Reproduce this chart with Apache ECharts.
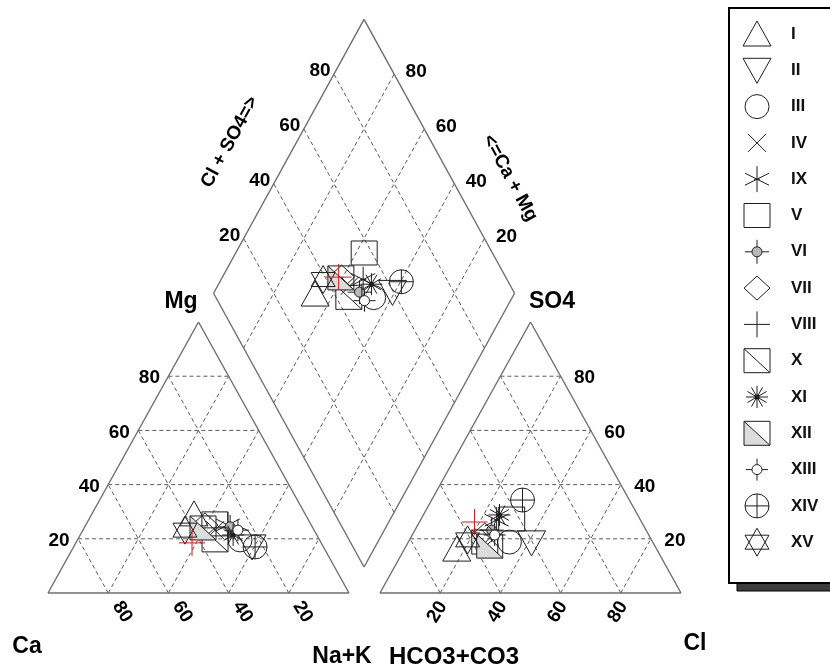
<!DOCTYPE html>
<html>
<head>
<meta charset="utf-8">
<script src="https://cdn.jsdelivr.net/npm/echarts@6/dist/echarts.min.js"></script>
<style>
html, body { margin: 0; padding: 0; background: #fff; }
#chart { width: 830px; height: 668px; }
</style>
</head>
<body>
<div id="chart"></div>
<script>
// ---- Sample groups and their ionic composition (meq %) ----
const sampleNames = ['I', 'II', 'III', 'IV', 'IX', 'V', 'VI', 'VII', 'VIII', 'X', 'XI', 'XII', 'XIII', 'XIV', 'XV'];
const markerKinds = ['triUp', 'triDown', 'circle', 'cross', 'asterisk', 'square', 'dotCross', 'diamond',
                     'plus', 'squareDiag', 'star', 'squareHalf', 'ringCross', 'circlePlus', 'hexagram'];

// cations
const caPct  = [36.9, 23.7, 26.4, 32.9, 27.7, 31.8, 27.3, 35.3, 42.9, 34.7, 27.8, 36.5, 25.3, 22.7, 42.9];
const mgPct  = [29.2, 17.0, 19.6, 23.2, 25.1, 25.5, 24.4, 25.1, 18.5, 19.6, 21.4, 24.0, 23.2, 17.0, 23.2];
const naKPct = [33.9, 59.3, 54.0, 43.9, 47.2, 42.7, 48.3, 39.6, 38.6, 45.7, 50.8, 39.5, 51.5, 60.3, 33.9];
// anions
const hco3Pct = [66.4, 40.4, 47.6, 53.4, 47.8, 42.6, 51.3, 54.5, 55.5, 55.8, 45.9, 54.9, 51.2, 35.5, 61.1];
const so4Pct  = [16.2, 18.5, 18.8, 20.3, 26.9, 27.3, 23.2, 21.4, 26.2, 18.8, 28.8, 17.3, 21.4, 34.3, 19.6];
const clPct   = [17.4, 41.1, 33.6, 26.3, 25.3, 30.1, 25.5, 24.1, 18.3, 25.4, 25.3, 27.8, 27.4, 30.2, 19.3];

const tickValues = [20, 40, 60, 80];

// ---- Piper layout in plot units (triangle side = 100) ----
const H = 86.6;             // triangle height
const R0 = 110.3;           // left corner of the anion triangle
const DB = [105, 8.3];      // bottom vertex of the diamond
const DL = [-50, 87.5];     // towards the left vertex
const DR = [50, 87.5];      // towards the right vertex

const catXY = (ca, mg, na) => [na + mg / 2, mg * H / 100];
const anXY = (hco3, so4, cl) => [R0 + cl + so4 / 2, so4 * H / 100];
const diaXY = (caMg, clSo4) => {
  const c = caMg / 100, s = clSo4 / 100;
  return [DB[0] + c * DL[0] + s * DR[0], DB[1] + c * DL[1] + s * DR[1]];
};

// ---- Frame lines (outlines + dashed grid) ----
const outlineSegs = [];
const gridSegs = [];
function seg(list, a, b) { list.push([a[0], a[1], b[0], b[1]]); }
function poly(list, pts) { for (let i = 0; i < pts.length; i++) seg(list, pts[i], pts[(i + 1) % pts.length]); }

poly(outlineSegs, [catXY(100, 0, 0), catXY(0, 0, 100), catXY(0, 100, 0)]);
poly(outlineSegs, [anXY(100, 0, 0), anXY(0, 0, 100), anXY(0, 100, 0)]);
poly(outlineSegs, [diaXY(0, 0), diaXY(100, 0), diaXY(100, 100), diaXY(0, 100)]);

tickValues.forEach(t => {
  // cation triangle
  seg(gridSegs, catXY(100 - t, t, 0), catXY(0, t, 100 - t));
  seg(gridSegs, catXY(100 - t, 0, t), catXY(0, 100 - t, t));
  seg(gridSegs, catXY(t, 0, 100 - t), catXY(t, 100 - t, 0));
  // anion triangle
  seg(gridSegs, anXY(100 - t, t, 0), anXY(0, t, 100 - t));
  seg(gridSegs, anXY(100 - t, 0, t), anXY(0, 100 - t, t));
  seg(gridSegs, anXY(t, 0, 100 - t), anXY(t, 100 - t, 0));
  // diamond
  seg(gridSegs, diaXY(t, 0), diaXY(t, 100));
  seg(gridSegs, diaXY(0, t), diaXY(100, t));
});

// ---- Tick labels ----
const tickLabels = [];
tickValues.forEach(t => {
  tickLabels.push({ pos: catXY(t, 0, 100 - t), text: String(t), dx: 14, dy: 19, rot: -58 });
  tickLabels.push({ pos: catXY(100 - t, t, 0), text: String(t), dx: -19, dy: 2, rot: 0 });
  tickLabels.push({ pos: anXY(100 - t, 0, t), text: String(t), dx: -3, dy: 19, rot: 58 });
  tickLabels.push({ pos: anXY(0, t, 100 - t), text: String(t), dx: 24, dy: 2, rot: 0 });
  tickLabels.push({ pos: diaXY(100, t), text: String(t), dx: -14, dy: -3, rot: 0 });
  tickLabels.push({ pos: diaXY(t, 100), text: String(t), dx: 22, dy: -2, rot: 0 });
});

// ---- Marker glyphs ----
function glyph(kind, col) {
  const S = { stroke: col, lineWidth: 1, fill: 'none' };
  const ln = (x1, y1, x2, y2) => ({ type: 'line', shape: { x1, y1, x2, y2 }, style: { stroke: col, lineWidth: 1 } });
  const rect = { type: 'rect', shape: { x: -13, y: -12, width: 26, height: 24 }, style: S };
  switch (kind) {
    case 'triUp': return [{ type: 'polygon', shape: { points: [[0, -13], [14, 12], [-14, 12]] }, style: S }];
    case 'triDown': return [{ type: 'polygon', shape: { points: [[0, 13], [14, -12], [-14, -12]] }, style: S }];
    case 'circle': return [{ type: 'circle', shape: { cx: 0, cy: 0, r: 12 }, style: S }];
    case 'cross': return [ln(-9, -9, 9, 9), ln(-9, 9, 9, -9)];
    case 'asterisk': return [ln(0, -13, 0, 13), ln(-12, -6, 12, 6), ln(-12, 6, 12, -6), ln(-3, 0, 3, 0)];
    case 'square': return [rect];
    case 'dotCross': return [ln(-12, 0, -5, 0), ln(5, 0, 12, 0), ln(0, -12, 0, -5), ln(0, 5, 0, 12),
      { type: 'circle', shape: { cx: 0, cy: 0, r: 5 }, style: { fill: '#b8b8b8', stroke: col, lineWidth: 1 } }];
    case 'diamond': return [{ type: 'polygon', shape: { points: [[0, -12], [13, 0], [0, 12], [-13, 0]] }, style: S }];
    case 'plus': return [ln(-13, 0, 13, 0), ln(0, -13, 0, 13)];
    case 'squareDiag': return [rect, ln(-13, -12, 13, 12)];
    case 'star': {
      const out = [];
      for (let a = 0; a < 180; a += 30) {
        const r = a * Math.PI / 180;
        out.push(ln(-11 * Math.cos(r), -11 * Math.sin(r), 11 * Math.cos(r), 11 * Math.sin(r)));
      }
      out.push({ type: 'circle', shape: { cx: 0, cy: 0, r: 2.5 }, style: { fill: col } });
      return out;
    }
    case 'squareHalf': return [
      { type: 'polygon', shape: { points: [[-13, -12], [13, 12], [-13, 12]] }, style: { fill: '#dcdcdc' } },
      rect, ln(-13, -12, 13, 12)];
    case 'ringCross': return [ln(-11, 0, -5, 0), ln(5, 0, 11, 0), ln(0, -11, 0, -5), ln(0, 5, 0, 11),
      { type: 'circle', shape: { cx: 0, cy: 0, r: 5 }, style: { fill: '#fff', stroke: col, lineWidth: 1 } }];
    case 'circlePlus': return [{ type: 'circle', shape: { cx: 0, cy: 0, r: 12 }, style: S }, ln(-12, 0, 12, 0), ln(0, -12, 0, 12)];
    case 'hexagram': return [
      { type: 'polygon', shape: { points: [[0, -14], [12, 7], [-12, 7]] }, style: S },
      { type: 'polygon', shape: { points: [[0, 14], [12, -7], [-12, -7]] }, style: S }];
  }
  return [];
}

const INK = '#1e1e1e';
const HIGHLIGHT = 'VIII';   // drawn in red, on top of the other groups
const sampleColor = name => (name === HIGHLIGHT ? '#e8141a' : INK);

// ---- Series ----
const series = [];

function segSeries(segs, style) {
  return {
    type: 'custom', coordinateSystem: 'cartesian2d', silent: true, animation: false,
    encode: { x: [0, 2], y: [1, 3] },
    data: segs,
    renderItem: (params, api) => {
      const a = api.coord([api.value(0), api.value(1)]);
      const b = api.coord([api.value(2), api.value(3)]);
      return { type: 'line', shape: { x1: a[0], y1: a[1], x2: b[0], y2: b[1] }, style: style };
    }
  };
}
series.push(segSeries(gridSegs, { stroke: '#5a5a5a', lineWidth: 1, lineDash: [4, 3] }));
series.push(segSeries(outlineSegs, { stroke: '#6e6e6e', lineWidth: 1.4 }));

series.push({
  type: 'custom', coordinateSystem: 'cartesian2d', silent: true, animation: false,
  data: tickLabels.map(d => d.pos),
  renderItem: (params, api) => {
    const d = tickLabels[params.dataIndex];
    const p = api.coord([api.value(0), api.value(1)]);
    return {
      type: 'text', x: p[0] + d.dx, y: p[1] + d.dy, rotation: d.rot * Math.PI / 180,
      style: { text: d.text, font: 'bold 19px "Liberation Sans", Arial, sans-serif', fill: '#000',
               align: 'center', verticalAlign: 'middle' }
    };
  }
});

sampleNames.forEach((name, i) => {
  const pts = [
    catXY(caPct[i], mgPct[i], naKPct[i]),
    anXY(hco3Pct[i], so4Pct[i], clPct[i]),
    diaXY(caPct[i] + mgPct[i], so4Pct[i] + clPct[i])
  ];
  const kind = markerKinds[i];
  const col = sampleColor(name);
  series.push({
    name: name, type: 'custom', coordinateSystem: 'cartesian2d', silent: true, animation: false,
    z: name === HIGHLIGHT ? 5 : 2,
    data: pts,
    renderItem: (params, api) => {
      const p = api.coord([api.value(0), api.value(1)]);
      return { type: 'group', x: p[0], y: p[1], children: glyph(kind, col) };
    }
  });
});

// ---- Static titles and legend ----
const titleFont = 'bold 23px "Liberation Sans", Arial, sans-serif';
const sideFont = 'bold 19px "Liberation Sans", Arial, sans-serif';
const txt = (x, y, text, font, rot) => ({
  type: 'text', x: x, y: y, rotation: (rot || 0) * Math.PI / 180,
  style: { text: text, font: font, fill: '#000', align: 'center', verticalAlign: 'middle' }
});
const graphics = [
  txt(181, 302, 'Mg', titleFont),
  txt(552, 302, 'SO4', titleFont),
  txt(27, 647, 'Ca', titleFont),
  txt(342, 657, 'Na+K', titleFont),
  txt(454, 657, 'HCO3+CO3', 'bold 24px "Liberation Sans", Arial, sans-serif'),
  txt(695, 644, 'Cl', titleFont),
  txt(230, 142, 'Cl + SO4=>', sideFont, 61.5),
  txt(510, 178, '<=Ca + Mg', sideFont, -61.5),
  // legend frame with drop shadow
  { type: 'rect', shape: { x: 737, y: 583, width: 100, height: 8 }, style: { fill: '#3c3c3c', stroke: '#000', lineWidth: 1 } },
  { type: 'rect', shape: { x: 729, y: 8, width: 110, height: 575 }, style: { fill: '#fff', stroke: '#000', lineWidth: 2 } }
];
sampleNames.forEach((name, i) => {
  const y = 34 + i * 36.3;
  graphics.push({ type: 'group', x: 757, y: y, children: glyph(markerKinds[i], INK) });
  graphics.push({ type: 'text', x: 791, y: y, style: { text: name, font: 'bold 17px "Liberation Sans", Arial, sans-serif', fill: '#111', align: 'left', verticalAlign: 'middle' } });
});

// ---- Chart ----
const PX_X = 3.01, PX_Y = 3.129;       // pixels per plot unit
const chart = echarts.init(document.getElementById('chart'), null, { renderer: 'canvas' });
chart.setOption({
  animation: false,
  backgroundColor: '#fff',
  grid: { left: 0, right: 0, top: 0, bottom: 0 },
  xAxis: { type: 'value', min: -48 / PX_X, max: (830 - 48) / PX_X, show: false },
  yAxis: { type: 'value', min: -(668 - 593) / PX_Y, max: 593 / PX_Y, show: false },
  series: series,
  graphic: { elements: graphics }
});
</script>
</body>
</html>
